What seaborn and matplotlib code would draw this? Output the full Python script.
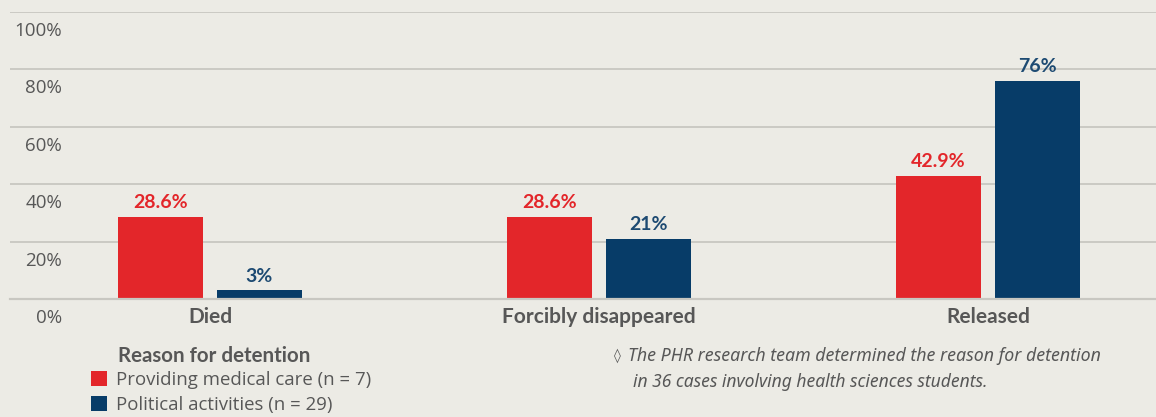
import matplotlib
matplotlib.use("Agg")
import matplotlib.pyplot as plt
from matplotlib.transforms import ScaledTranslation
from matplotlib.patches import Patch
import seaborn as sns
import pandas as pd

# Outcome of detention by reason for detention (share of cases, %)
outcomes = ["Died", "Forcibly disappeared", "Released"]
medical_care = [28.6, 28.6, 42.9]
political = [3, 21, 76]
groups = ["Providing medical care (n = 7)", "Political activities (n = 29)"]
yticks = [0, 20, 40, 60, 80, 100]

BG = "#ecebe5"
RED = "#e3262a"
BLUE = "#073c68"
GRID = "#c8c7c1"
TEXT = "#575757"
FONT = ["Open Sans", "DejaVu Sans"]
BOLD = ["Lato", "DejaVu Sans"]

df = pd.DataFrame({
    "outcome": outcomes * 2,
    "share": medical_care + political,
    "group": [groups[0]] * 3 + [groups[1]] * 3,
})

sns.set_theme(style="white")
plt.rcParams["font.family"] = FONT

W, H = 1156, 417
fig = plt.figure(figsize=(W / 100, H / 100), dpi=100, facecolor=BG)
ax = fig.add_axes([10 / W, (H - 299) / H, 1146 / W, 287 / H])
ax.set_facecolor(BG)

sns.barplot(data=df, x="outcome", y="share", hue="group",
            palette=[RED, BLUE], width=0.509, gap=0.141,
            saturation=1, linewidth=0, ax=ax, legend=False)

ax.set_xlim(-0.514, 2.432)
ax.set_ylim(0, 100)
ax.set_yticks(yticks)
ax.set_yticklabels([f"{t}%" for t in yticks])
ax.yaxis.grid(True, color=GRID, linewidth=1.3)
ax.set_axisbelow(True)
for s in ["top", "right", "left"]:
    ax.spines[s].set_visible(False)
ax.spines["bottom"].set_color(GRID)
ax.spines["bottom"].set_linewidth(1.6)
ax.set_xlabel("")
ax.set_ylabel("")
ax.tick_params(axis="y", length=0, pad=0, labelsize=13.5, labelcolor=TEXT)
ax.tick_params(axis="x", length=0, pad=5.5, labelsize=15, labelcolor=TEXT)
for lab in ax.get_xticklabels():
    lab.set_fontweight("bold")
    lab.set_family(BOLD)
shift = ScaledTranslation(52 / 100, -17 / 100, fig.dpi_scale_trans)
for lab in ax.get_yticklabels():
    lab.set_transform(lab.get_transform() + shift)

# Value labels on each bar
for cont, vals, col in zip(ax.containers, [medical_care, political], [RED, "#1d4a72"]):
    ax.bar_label(cont, labels=[f"{v:g}%" for v in vals], padding=4,
                 color=col, fontsize=14, fontweight="bold", family=BOLD)

# Legend
fig.text(118 / W, 1 - 356 / H, "Reason for detention", ha="left", va="center",
         fontsize=14.8, fontweight="bold", color=TEXT, family=BOLD)
handles = [Patch(facecolor=RED, edgecolor="none"), Patch(facecolor=BLUE, edgecolor="none")]
fig.legend(handles, groups, loc="upper left", bbox_to_anchor=(91 / W, 1 - 371 / H),
           frameon=False, fontsize=13.4, labelcolor=TEXT, handlelength=0.85,
           handleheight=0.85, handletextpad=0.5, labelspacing=0.38, borderpad=0,
           borderaxespad=0)

# Footnote
fig.text(614 / W, 1 - 356 / H, "\u25ca", ha="left", va="center",
         fontsize=10, color=TEXT, family=["DejaVu Sans"])
fig.text(628 / W, 1 - 356 / H,
         "The PHR research team determined the reason for detention",
         ha="left", va="center", fontsize=12.8, style="italic", color=TEXT,
         family=["Noto Sans", "DejaVu Sans"])
fig.text(633 / W, 1 - 382 / H,
         "in 36 cases involving health sciences students.",
         ha="left", va="center", fontsize=12.6, style="italic", color=TEXT,
         family=["Noto Sans", "DejaVu Sans"])

fig.savefig("out.png", dpi=100, facecolor=BG)
